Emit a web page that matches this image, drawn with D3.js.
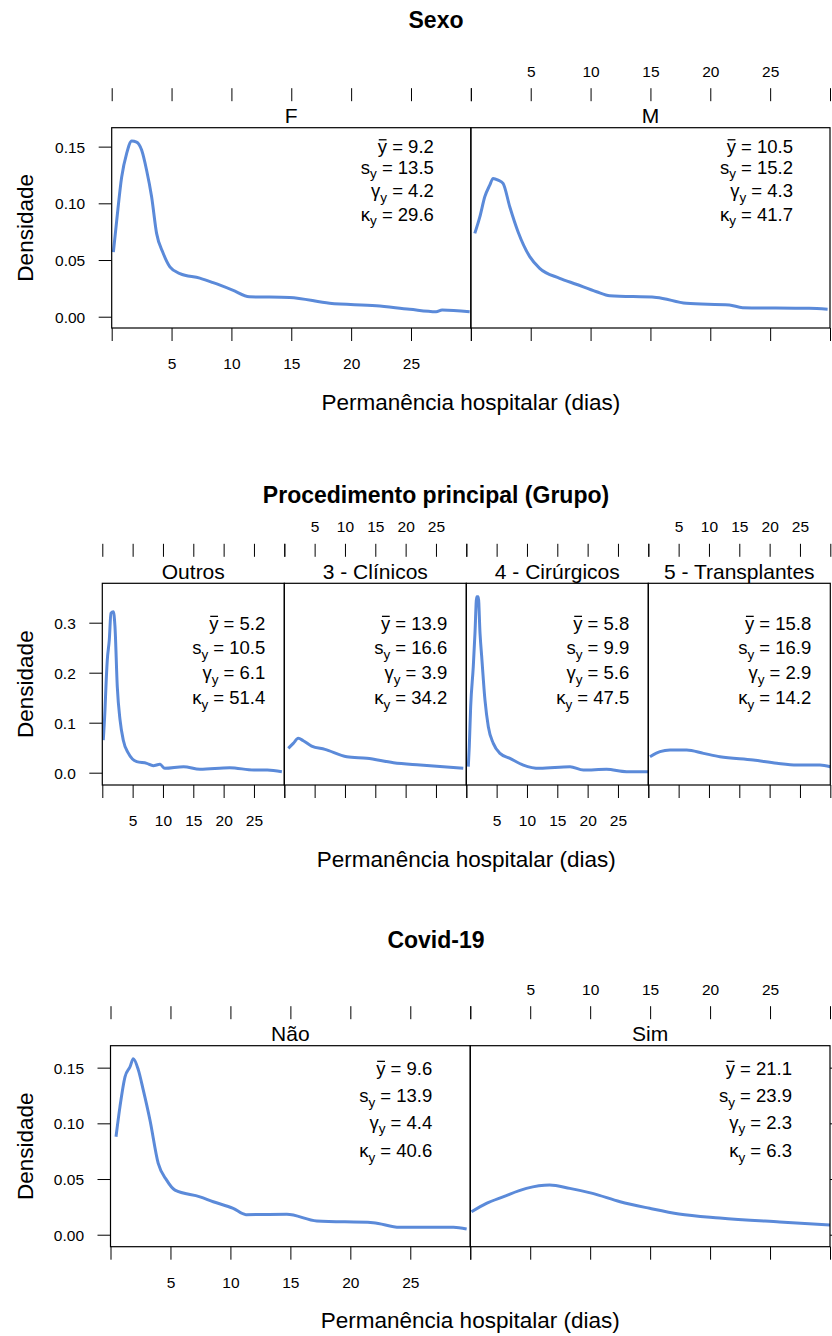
<!DOCTYPE html>
<html><head><meta charset="utf-8">
<script src="https://cdn.jsdelivr.net/npm/d3@7"></script>
<style>
body{margin:0;background:#fff}
svg{display:block}
text{font-family:"Liberation Sans",Arial,Helvetica,sans-serif;fill:#000}
</style>
</head><body>
<svg id="c" width="832" height="1336"></svg>
<script>
// ---------------- DATA ----------------
const xTicks = [0, 5, 10, 15, 20, 25, 30];
const xTickLabels = ["", "5", "10", "15", "20", "25", ""];
const yTicksSexo = [0, 0.05, 0.10, 0.15];
const yTicksProc = [0, 0.1, 0.2, 0.3];
const yTicksCovid = [0, 0.05, 0.10, 0.15];

const titles = ["Sexo", "Procedimento principal (Grupo)", "Covid-19"];
const catSexo = ["F", "M"];
const catProc = ["Outros", "3 - Clínicos", "4 - Cirúrgicos", "5 - Transplantes"];
const catCovid = ["Não", "Sim"];

// density curves [dias, densidade]
const densF = [[0.14,0.057],[0.42,0.085],[0.83,0.123],[1.25,0.144],[1.67,0.155],[2.08,0.154],[2.5,0.147],[2.92,0.129],[3.33,0.106],[3.75,0.0735],[4.3,0.056],[4.86,0.044],[5.7,0.038],[7.36,0.034],[8.47,0.030],[10.1,0.0235],[11.5,0.0176],[14.86,0.017],[18.2,0.0118],[22.1,0.0097],[24.9,0.0065],[27.1,0.0044],[27.6,0.0059],[29.9,0.0044]];
const densM = [[0.33,0.0735],[0.75,0.088],[1.17,0.106],[1.58,0.116],[1.86,0.122],[2.28,0.1205],[2.69,0.1176],[3.25,0.097],[3.94,0.075],[4.92,0.053],[5.75,0.0427],[7.42,0.0339],[8.8,0.0286],[10.5,0.022],[11.6,0.0185],[15.5,0.017],[18,0.0118],[21.6,0.0103],[22.7,0.008],[28.25,0.0074],[29.8,0.0065]];
const densOutros = [[0.16,0.065],[0.44,0.125],[0.6,0.172],[0.82,0.225],[1.15,0.265],[1.43,0.319],[1.81,0.322],[2.09,0.292],[2.47,0.172],[2.93,0.105],[3.46,0.065],[4.29,0.039],[5.67,0.022],[7.32,0.0187],[8.4,0.014],[9.5,0.0167],[10.3,0.0087],[13.4,0.012],[16.1,0.0067],[21,0.01],[25,0.0053],[27.2,0.0053],[29.6,0.002]];
const densClinicos = [[0.66,0.0487],[1.48,0.0587],[2.3,0.0687],[3.13,0.064],[4.5,0.0533],[6.7,0.0467],[10.3,0.032],[13.6,0.0287],[18,0.02],[22.4,0.0153],[29.5,0.0087]];
const densCirurgicos = [[0.33,0.012],[0.49,0.052],[0.72,0.132],[1.15,0.212],[1.43,0.279],[1.71,0.352],[1.98,0.352],[2.26,0.279],[2.54,0.232],[3.08,0.145],[3.63,0.092],[4.45,0.0587],[5.55,0.0387],[7.2,0.0287],[9.4,0.0153],[12.1,0.0087],[17.1,0.012],[19.3,0.0053],[23.1,0.0067],[26.4,0.002],[30,0.002]];
const densTransplantes = [[0.28,0.032],[1.93,0.042],[3.58,0.0453],[6.33,0.0453],[9.1,0.0387],[11.8,0.032],[17.3,0.0253],[21.2,0.0187],[24.5,0.0153],[28.3,0.0153],[30,0.012]];
const densNao = [[0.46,0.088],[0.79,0.115],[1.21,0.1418],[1.63,0.1508],[1.9,0.158],[2.32,0.148],[2.73,0.13],[3.29,0.103],[3.98,0.064],[4.68,0.049],[5.38,0.040],[7.46,0.034],[8.57,0.0296],[10.23,0.0237],[11.3,0.018],[14.7,0.0183],[17.2,0.0123],[21.9,0.0108],[24.1,0.0066],[28.6,0.0066],[29.7,0.0051]];
const densSim = [[0.1,0.0206],[1.35,0.0282],[2.73,0.034],[4.68,0.0416],[6.62,0.0446],[8.3,0.0416],[10.2,0.0371],[12.5,0.0296],[14.96,0.0237],[17.4,0.0186],[20.8,0.015],[25.8,0.0114],[30,0.0087]];

// summary stats: mean, sd, skewness, kurtosis
const statsF = ["9.2", "13.5", "4.2", "29.6"];
const statsM = ["10.5", "15.2", "4.3", "41.7"];
const statsOutros = ["5.2", "10.5", "6.1", "51.4"];
const statsClinicos = ["13.9", "16.6", "3.9", "34.2"];
const statsCirurgicos = ["5.8", "9.9", "5.6", "47.5"];
const statsTransplantes = ["15.8", "16.9", "2.9", "14.2"];
const statsNao = ["9.6", "13.9", "4.4", "40.6"];
const statsSim = ["21.1", "23.9", "2.3", "6.3"];

const xLabel = "Permanência hospitalar (dias)";
const yLabel = "Densidade";

// ---------------- LAYOUT ----------------
const LINE = "#5b8ad9";
const FS_TICK = 15.5, FS_STAT = 18.5, FS_STRIP = 21, FS_AX = 22.5, FS_TITLE = 23;

const sections = [
  { title: titles[0], titleY: 28, top: 127.7, bottom: 328, left: 111.7, right: 830,
    yDomain: [-0.00996, 0.1667], yTicks: yTicksSexo, yFmt: d3.format(".2f"),
    cats: catSexo, dens: [densF, densM], stats: [statsF, statsM],
    statInset: 37, statRows: [19, 39.3, 63, 86.6], rightTicks: false },
  { title: titles[1], titleY: 503, top: 583.3, bottom: 785, left: 102.3, right: 830.3,
    yDomain: [-0.0246, 0.3788], yTicks: yTicksProc, yFmt: d3.format(".1f"),
    cats: catProc, dens: [densOutros, densClinicos, densCirurgicos, densTransplantes],
    stats: [statsOutros, statsClinicos, statsCirurgicos, statsTransplantes],
    statInset: 19, statRows: [40, 64.2, 89.2, 114.2], rightTicks: false },
  { title: titles[2], titleY: 948, top: 1045.7, bottom: 1246.7, left: 110.5, right: 830,
    yDomain: [-0.01077, 0.1697], yTicks: yTicksCovid, yFmt: d3.format(".2f"),
    cats: catCovid, dens: [densNao, densSim], stats: [statsNao, statsSim],
    statInset: 38, statRows: [22.6, 50, 76.6, 105], rightTicks: true }
];

const svg = d3.select("#c");

sections.forEach(sec => {
  const g = svg.append("g");
  const n = sec.cats.length;
  const pw = (sec.right - sec.left) / n;
  const y = d3.scaleLinear().domain(sec.yDomain).range([sec.bottom, sec.top]);
  const cx = (sec.left + sec.right) / 2;

  // title
  g.append("text").attr("x", 436).attr("y", sec.titleY)
    .attr("text-anchor", "middle").attr("font-size", FS_TITLE).attr("font-weight", "bold")
    .text(sec.title);

  // y axis (left)
  const ya = g.append("g").attr("transform", `translate(${sec.left},0)`)
    .call(d3.axisLeft(y).tickValues(sec.yTicks).tickFormat(sec.yFmt).tickSize(13).tickPadding(13.5));
  ya.select(".domain").remove();
  ya.selectAll("text").attr("font-size", FS_TICK).attr("font-family", null).attr("dy", "0.35em");
  ya.selectAll("line").attr("stroke", "#000");

  if (sec.rightTicks) {
    const yr = g.append("g").attr("transform", `translate(${sec.right},0)`)
      .call(d3.axisRight(y).tickValues(sec.yTicks).tickFormat(() => "").tickSize(13));
    yr.select(".domain").remove();
  }

  // y label
  g.append("text").attr("transform", `translate(33,${(sec.top + sec.bottom) / 2}) rotate(-90)`)
    .attr("text-anchor", "middle").attr("font-size", FS_AX).text(yLabel);

  // x label
  g.append("text").attr("x", cx).attr("y", sec.bottom + 81.5)
    .attr("text-anchor", "middle").attr("font-size", FS_AX).text(xLabel);

  sec.cats.forEach((cat, i) => {
    const x0 = sec.left + i * pw, x1 = x0 + pw;
    const x = d3.scaleLinear().domain([0, 30]).range([x0, x1]);
    const pg = g.append("g");

    // top axis (ticks above strip)
    const showTop = (i % 2 === 1);
    const ta = pg.append("g").attr("transform", `translate(0,${sec.top - 26.5})`)
      .call(d3.axisTop(x).tickValues(xTicks).tickSize(13)
        .tickFormat((d, k) => showTop ? xTickLabels[k] : ""));
    ta.select(".domain").remove();
    ta.selectAll("text").attr("font-size", FS_TICK).attr("font-family", null)
      .attr("y", -24.5).attr("dy", null);

    // bottom axis
    const showBot = (i % 2 === 0);
    const ba = pg.append("g").attr("transform", `translate(0,${sec.bottom})`)
      .call(d3.axisBottom(x).tickValues(xTicks).tickSize(13)
        .tickFormat((d, k) => showBot ? xTickLabels[k] : ""));
    ba.select(".domain").remove();
    ba.selectAll("text").attr("font-size", FS_TICK).attr("font-family", null)
      .attr("y", 41).attr("dy", null);

    // strip label
    pg.append("text").attr("x", (x0 + x1) / 2).attr("y", sec.top - 4.5)
      .attr("text-anchor", "middle").attr("font-size", FS_STRIP).text(cat);

    // clip
    const cid = "clip-" + sec.title.length + "-" + i;
    pg.append("clipPath").attr("id", cid).append("rect")
      .attr("x", x0).attr("y", sec.top).attr("width", pw).attr("height", sec.bottom - sec.top);

    // density line
    const line = d3.line().x(d => x(d[0])).y(d => y(d[1])).curve(d3.curveMonotoneX);
    pg.append("path").datum(sec.dens[i]).attr("d", line)
      .attr("fill", "none").attr("stroke", LINE).attr("stroke-width", 3)
      .attr("stroke-linejoin", "round").attr("clip-path", `url(#${cid})`);

    // panel border
    pg.append("rect").attr("x", x0).attr("y", sec.top).attr("width", pw)
      .attr("height", sec.bottom - sec.top).attr("fill", "none").attr("stroke", "#000").attr("stroke-width", 1.2);

    // stats
    const st = sec.stats[i];
    const rx = x1 - sec.statInset;
    const syms = ["y", "s", "γ", "κ"];
    st.forEach((val, r) => {
      const base = sec.top + sec.statRows[r] + 0.36 * FS_STAT;
      const t = pg.append("text").attr("x", rx).attr("y", base)
        .attr("text-anchor", "end").attr("font-size", FS_STAT);
      t.append("tspan").text(syms[r]);
      if (r > 0) {
        t.append("tspan").attr("font-size", 13.5).attr("dy", 4.5).text("y");
        t.append("tspan").attr("dy", -4.5).text(" = " + val);
      } else {
        t.append("tspan").text(" = " + val);
      }
      if (r === 0) {
        const ext = t.node().getExtentOfChar(0);
        pg.append("line").attr("x1", ext.x + 1).attr("x2", ext.x + ext.width - 0.5)
          .attr("y1", base - 13.6).attr("y2", base - 13.6)
          .attr("stroke", "#000").attr("stroke-width", 1.3);
      }
    });
  });
});
</script>
</body></html>
